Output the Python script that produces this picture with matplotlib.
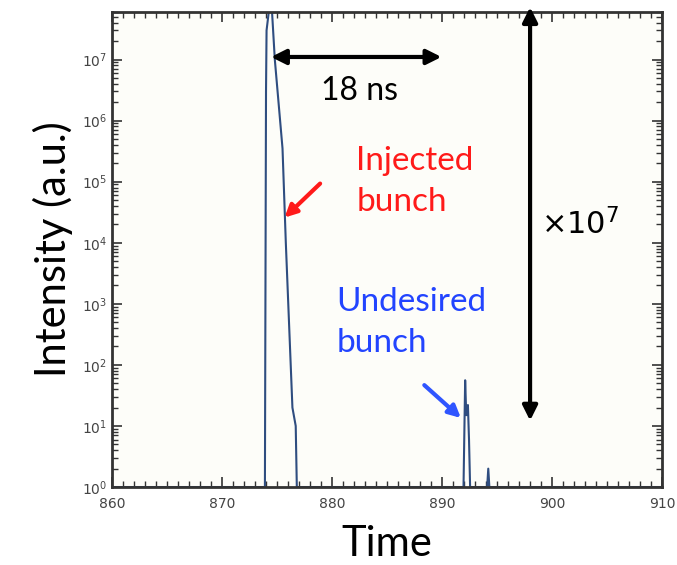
import math
import matplotlib
matplotlib.use("Agg")
import matplotlib.pyplot as plt
from matplotlib.ticker import MultipleLocator, LogLocator, FuncFormatter

# signal trace (time, intensity)
time = [860.0, 873.9, 874.0, 874.05, 874.45, 874.8, 875.5, 875.8, 876.4, 876.7, 876.8,
        891.95, 892.1, 892.2, 892.35, 892.45, 892.55, 894.1, 894.2, 894.3, 910.0]
intensity = [1, 1, 3e6, 3e7, 1.2e8, 1e7, 3.5e5, 1e4, 20, 10, 1,
             1, 56, 15, 22, 6, 1, 1, 2, 1, 1]

x_ticks = [860, 870, 880, 890, 900, 910]

fig = plt.figure(figsize=(6.77, 5.65), dpi=100)
ax = fig.add_axes([0.1654, 0.138, 0.8126, 0.8408])
ax.set_facecolor("#fdfdf9")

ax.plot(time, intensity, color="#2f4d80", lw=1.5)
ax.set_yscale("log")
ax.set_xlim(860, 910)
ax.set_ylim(1, 6e7)

ax.set_xticks(x_ticks)
ax.xaxis.set_minor_locator(MultipleLocator(1))
ax.yaxis.set_major_locator(LogLocator(base=10, numticks=20))
ax.yaxis.set_minor_locator(LogLocator(base=10, subs=range(2, 10), numticks=20))
ax.yaxis.set_major_formatter(FuncFormatter(lambda v, p: r"$10^{%d}$" % round(math.log10(v))))
ax.tick_params(which="both", direction="in", top=True, right=True, color="#333333",
               labelsize=10, labelcolor="#444444")
ax.tick_params(axis="x", pad=7)
ax.tick_params(which="major", length=7, width=1.2)
ax.tick_params(which="minor", length=4, width=1.0)
for s in ax.spines.values():
    s.set_linewidth(2)
    s.set_color("#333333")

ax.set_xlabel("Time", fontsize=30, family="Lato", labelpad=10)
ax.set_ylabel("Intensity (a.u.)", fontsize=30, family="Lato", labelpad=6)

# 18 ns arrow
ax.annotate("", xy=(874.2, 1.1e7), xytext=(890.2, 1.1e7),
            arrowprops=dict(arrowstyle="<|-|>", color="black", lw=3, mutation_scale=22))
ax.text(882.5, 3e6, "18 ns", fontsize=23, family="Lato", ha="center", va="center")

# x10^7 arrow
ax.annotate("", xy=(898.0, 8e7), xytext=(898.0, 11), xycoords="data",
            arrowprops=dict(arrowstyle="<|-|>", color="black", lw=3, mutation_scale=22),
            annotation_clip=False)
ax.text(899.0, 2e4, r"$\times10^7$", fontsize=22, ha="left", va="center")

# labels
ax.text(882.2, 1e5, "Injected\nbunch", color="#ff1a1a", fontsize=24, family="Lato",
        ha="left", va="center", linespacing=1.45)
ax.annotate("", xy=(875.5, 2.4e4), xytext=(879.1, 1e5),
            arrowprops=dict(arrowstyle="-|>", color="#ff1a1a", lw=3, mutation_scale=18))
ax.text(880.4, 5e2, "Undesired\nbunch", color="#2244ff", fontsize=24, family="Lato",
        ha="left", va="center", linespacing=1.45)
ax.annotate("", xy=(891.9, 12.6), xytext=(888.2, 50),
            arrowprops=dict(arrowstyle="-|>", color="#2f55ff", lw=3, mutation_scale=18))

fig.savefig("out.png", dpi=100, facecolor="white")
